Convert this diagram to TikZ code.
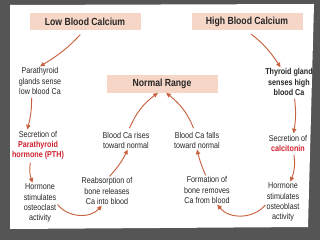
\documentclass[tikz,border=0pt]{standalone}
\usepackage{fontspec}
\setmainfont{Liberation Sans}[FakeStretch=0.84]
\usetikzlibrary{arrows.meta}
\definecolor{peach}{HTML}{F6D6C6}
\definecolor{arrowred}{HTML}{C9623F}
\definecolor{hormred}{HTML}{D0202E}
\definecolor{slidegray}{HTML}{555555}

\begin{document}
\begin{tikzpicture}[
  x=0.3mm, y=0.3mm,
  font=\fontsize{7.3}{8.6}\selectfont,
  every node/.style={align=center, inner sep=1pt, text=black!85},
  level/.style={fill=peach, font=\fontsize{8.8}{10}\selectfont\bfseries,
    minimum width=33.3mm, minimum height=5.2mm},
  flow/.style={draw=arrowred, line width=0.8pt, -{Triangle[length=4pt,width=3.6pt]}}]
% slide frame
\useasboundingbox (0,0) rectangle (320,-240);
\fill[slidegray] (0,0) rectangle (320,-240);
\fill[white] (10,-5) -- (314,-4) -- (308,-227) -- (10,-229) -- cycle;

% headings
\node[level] (low) at (85,-21.5) {Low Blood Calcium};
\node[level] (high) at (247,-21.5) {High Blood Calcium};
\node[level] (normal) at (162,-84) {Normal Range};

% low calcium side
\node (para) at (40,-81) {Parathyroid\\glands sense\\low blood Ca};
\node (secpth) at (38,-145) {Secretion of\\{\color{hormred}\bfseries Parathyroid}\\{\color{hormred}\bfseries hormone (PTH)}};
\node (hormc) at (40,-203) {Hormone\\stimulates\\osteoclast\\activity};
\node (reabs) at (107,-191) {Reabsorption of\\bone releases\\Ca into blood};
\node (rises) at (126,-140) {Blood Ca rises\\toward normal};

% high calcium side
\node[font=\fontsize{7.3}{8.6}\selectfont\bfseries] (thyroid) at (289,-82) {Thyroid gland\\senses high\\blood Ca};
\node (seccal) at (288,-143) {Secretion of\\{\color{hormred}\bfseries calcitonin}};
\node (hormb) at (283,-202) {Hormone\\stimulates\\osteoblast\\activity};
\node (form) at (207,-190) {Formation of\\bone removes\\Ca from blood};
\node (falls) at (197,-140) {Blood Ca falls\\toward normal};

% cycles
\draw[flow, shorten <=5pt] (low.-95) to[bend left=8] (para.north);
\draw[flow, shorten <=2pt] (para.-120) to[bend left=8] (secpth.125);
\draw[flow, shorten <=2pt] (secpth.-115) to[bend right=15] (hormc.110);
\draw[flow] (hormc.-5) to[bend right=50] (reabs.-110);
\draw[flow] (reabs.80) to[bend right=8] (rises.-80);
\draw[flow, shorten <=2pt] (rises.75) to[bend left=15] (normal.-115);
\draw[flow, shorten <=2pt] (falls.105) to[bend right=15] (normal.-65);
\draw[flow] (form.95) to[bend left=5] (falls.-90);
\draw[flow] (hormb.-170) to[bend left=50] (form.-55);
\draw[flow, shorten <=2pt] (seccal.-60) to[bend left=15] (hormb.70);
\draw[flow, shorten <=2pt] (thyroid.-70) to[bend left=8] (seccal.60);
\draw[flow, shorten <=5pt] (high.-95) to[bend left=10] (thyroid.120);
\end{tikzpicture}
\end{document}
